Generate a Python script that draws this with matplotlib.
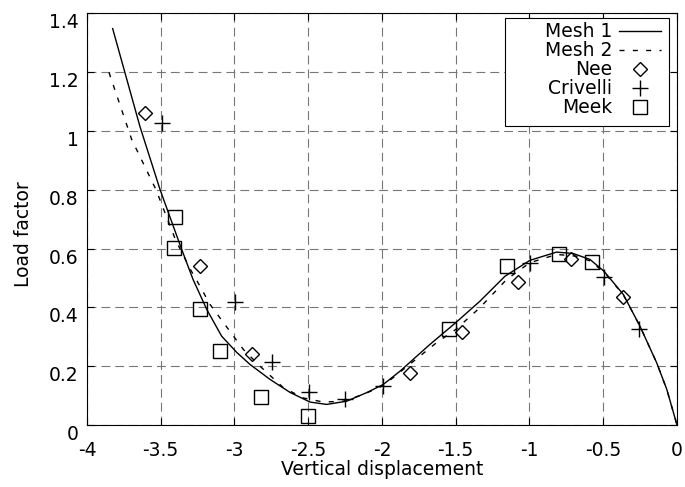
import matplotlib
matplotlib.use('Agg')
import matplotlib.pyplot as plt
from matplotlib.patches import Rectangle
from matplotlib.ticker import FuncFormatter

# curves (vertical displacement, load factor)
mesh1_x = [-3.826, -3.641, -3.505, -3.358, -3.281, -3.188, -3.087, -2.985, -2.895,
           -2.759, -2.624, -2.488, -2.375, -2.239, -2.104, -1.991, -1.878, -1.675,
           -1.5, -1.336, -1.166, -0.997, -0.816, -0.703, -0.59, -0.495, -0.364,
           -0.251, -0.138, -0.069, 0.0]
mesh1_y = [1.348, 1.015, 0.801, 0.597, 0.495, 0.393, 0.302, 0.247, 0.206,
           0.155, 0.111, 0.078, 0.070, 0.081, 0.110, 0.138, 0.183, 0.274,
           0.348, 0.421, 0.506, 0.560, 0.588, 0.583, 0.563, 0.523, 0.444,
           0.336, 0.212, 0.121, 0.0]

mesh2_x = [-3.851, -3.697, -3.532, -3.40, -3.30, -3.234, -3.166, -2.94, -2.827,
           -2.669, -2.533, -2.398, -2.262, -2.127, -1.991, -1.63, -1.5, -1.336,
           -1.155, -0.997, -0.816, -0.68, -0.59, -0.495, -0.364, -0.251, -0.138,
           -0.069, 0.0]
mesh2_y = [1.199, 0.971, 0.800, 0.630, 0.530, 0.472, 0.410, 0.257, 0.200,
           0.127, 0.092, 0.078, 0.081, 0.104, 0.134, 0.280, 0.325, 0.399,
           0.495, 0.552, 0.580, 0.574, 0.558, 0.520, 0.443, 0.336, 0.212,
           0.121, 0.0]

# reference solutions
nee_x = [-3.607, -3.234, -2.881, -1.81, -1.458, -1.078, -0.719, -0.366]
nee_y = [1.06, 0.54, 0.243, 0.177, 0.315, 0.485, 0.563, 0.434]

crivelli_x = [-3.494, -2.997, -2.748, -2.495, -2.251, -1.993, -0.997, -0.495, -0.256]
crivelli_y = [1.028, 0.417, 0.213, 0.111, 0.087, 0.134, 0.552, 0.502, 0.325]

meek_x = [-3.403, -3.41, -3.234, -3.098, -2.820, -2.50, -1.546, -1.153, -0.80, -0.576]
meek_y = [0.706, 0.603, 0.393, 0.251, 0.095, 0.032, 0.325, 0.539, 0.580, 0.553]

xticks = [-4, -3.5, -3, -2.5, -2, -1.5, -1, -0.5, 0]
yticks = [0, 0.2, 0.4, 0.6, 0.8, 1.0, 1.2, 1.4]

fs = 13.5

fig = plt.figure(figsize=(6.85, 4.87), dpi=100)
ax = fig.add_axes([0.127, 0.1273, 0.8613, 0.8454])

ax.plot(mesh1_x, mesh1_y, color='black', lw=1.0, label='Mesh 1')
ax.plot(mesh2_x, mesh2_y, color='black', lw=1.0, dashes=(3.6, 6), label='Mesh 2')
ax.plot(nee_x, nee_y, ls='none', marker='D', ms=7, mfc='none', mec='black',
        mew=1.0, label='Nee')
ax.plot(crivelli_x, crivelli_y, ls='none', marker='+', ms=11, mec='black',
        mew=1.0, label='Crivelli')
ax.plot(meek_x, meek_y, ls='none', marker='s', ms=10, mfc='none', mec='black',
        mew=1.0, label='Meek')

ax.set_xlim(-4, 0)
ax.set_ylim(0, 1.4)
ax.set_xticks(xticks)
ax.set_yticks(yticks)
fmt = FuncFormatter(lambda v, p: '%g' % v)
ax.xaxis.set_major_formatter(fmt)
ax.yaxis.set_major_formatter(fmt)

ax.grid(True, color='#777777', lw=0.8, ls=(0, (8, 4.5)))
ax.tick_params(direction='in', length=5, width=0.8, top=True, right=True,
               labelsize=fs, colors='black')
ax.tick_params(axis='x', pad=11.6)
ax.tick_params(axis='y', pad=6.2)
for lab in ax.get_yticklabels():
    lab.set_va('top')
for sp in ax.spines.values():
    sp.set_linewidth(0.8)

ax.set_xlabel('Vertical displacement', fontsize=fs)
ax.set_ylabel('Load factor', fontsize=fs)
ax.xaxis.set_label_coords(0.5, -0.086)
ax.yaxis.set_label_coords(-0.092, 0.4636)

# legend box (gnuplot style: labels right aligned, samples on the right)
box = Rectangle((505 / 685, 1 - 126 / 487), 164 / 685, 107.7 / 487,
                transform=fig.transFigure, facecolor='white', edgecolor='black',
                lw=0.8, zorder=4.5, clip_on=False)
ax.add_patch(box)
ax.legend(loc='upper right', bbox_to_anchor=(660.7 / 685, 1 - 22.3 / 487),
          bbox_transform=fig.transFigure, frameon=False, markerfirst=False,
          borderpad=0, borderaxespad=0, labelspacing=0, handlelength=2.24,
          handletextpad=0.36, fontsize=fs, numpoints=1)

fig.savefig('out.png', dpi=100)
